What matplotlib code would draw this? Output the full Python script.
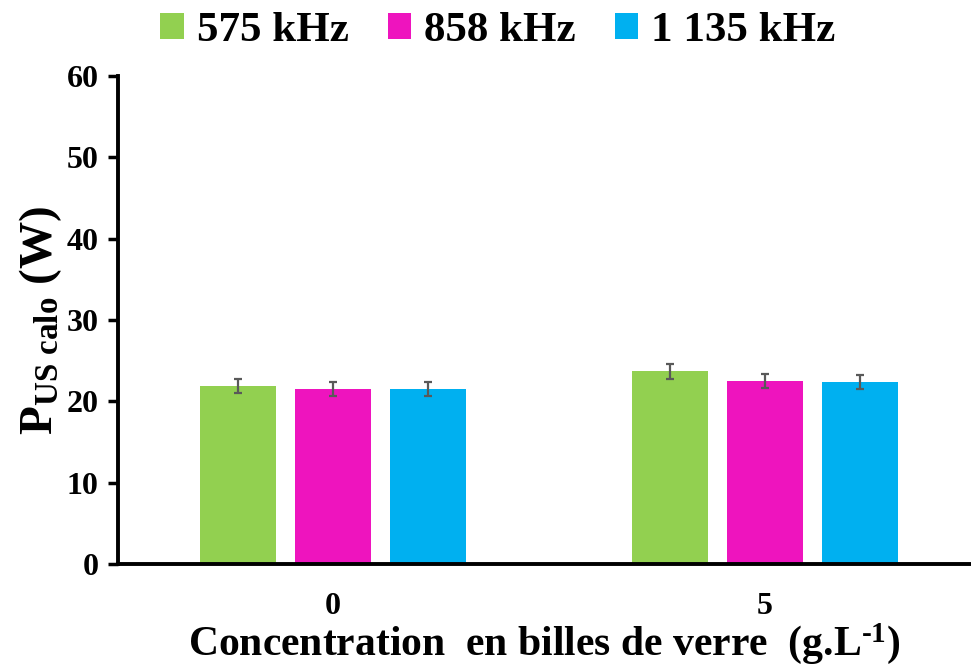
import matplotlib
matplotlib.use("Agg")
import matplotlib.pyplot as plt
import numpy as np

# calorimetric ultrasound power, by glass bead concentration and frequency
concentrations = ["0", "5"]
frequencies = ["575 kHz", "858 kHz", "1 135 kHz"]
p_575 = [21.9, 23.7]
p_858 = [21.5, 22.5]
p_1135 = [21.5, 22.4]
err_575 = [0.9, 0.95]
err_858 = [0.85, 0.9]
err_1135 = [0.85, 0.88]
colors = ["#92D050", "#EE14BE", "#00B0F0"]

plt.rcParams["font.family"] = ["Liberation Serif", "DejaVu Serif"]
plt.rcParams["font.weight"] = "bold"
plt.rcParams["mathtext.fontset"] = "custom"
plt.rcParams["mathtext.rm"] = "Liberation Serif:bold"
plt.rcParams["mathtext.bf"] = "Liberation Serif:bold"
plt.rcParams["mathtext.it"] = "Liberation Serif:bold"

fig = plt.figure(figsize=(9.71, 6.68), dpi=100)
ax = fig.add_axes([118 / 971, 104 / 668, 1 - 118 / 971, 488 / 668])

x = np.arange(len(concentrations))
width = 0.176
step = 0.22
series = [p_575, p_858, p_1135]
errors = [err_575, err_858, err_1135]
for i, (vals, errs) in enumerate(zip(series, errors)):
    ax.bar(x + (i - 1) * step, vals, width, color=colors[i], label=frequencies[i],
           yerr=errs, error_kw=dict(ecolor="#595959", elinewidth=1.6, capsize=2.6, capthick=1.6))

ax.set_ylim(0, 60)
ax.set_yticks(range(0, 61, 10))
ax.set_xlim(-(333 - 118) / 432, (971 - 333) / 432)
ax.set_xticks(x)
ax.set_xticklabels(concentrations)

for side in ["top", "right"]:
    ax.spines[side].set_visible(False)
for side in ["left", "bottom"]:
    ax.spines[side].set_linewidth(2.8)
ax.tick_params(axis="y", direction="out", length=7, width=2.5, pad=7, labelsize=23)
ax.tick_params(axis="x", length=0, pad=20, labelsize=23)
for lbl in ax.get_xticklabels() + ax.get_yticklabels():
    lbl.set_fontweight("bold")

ax.set_xlabel("Concentration  en billes de verre  (g.L$^{\\text{-1}}$)", fontsize=30,
              fontweight="bold", labelpad=0)
ax.set_ylabel(r"P$_{\mathrm{US\ calo}}$ (W)", fontsize=34, fontweight="bold", labelpad=2)

ax.legend(loc="center", bbox_to_anchor=(498 / 971, 1 - 31 / 668), bbox_transform=fig.transFigure,
          ncol=3, frameon=False, fontsize=31, handlelength=0.55, handleheight=0.55,
          handletextpad=0.3, columnspacing=0.9, borderaxespad=0.0)
for t in ax.get_legend().get_texts():
    t.set_fontweight("bold")

fig.savefig("out.png", dpi=100)
